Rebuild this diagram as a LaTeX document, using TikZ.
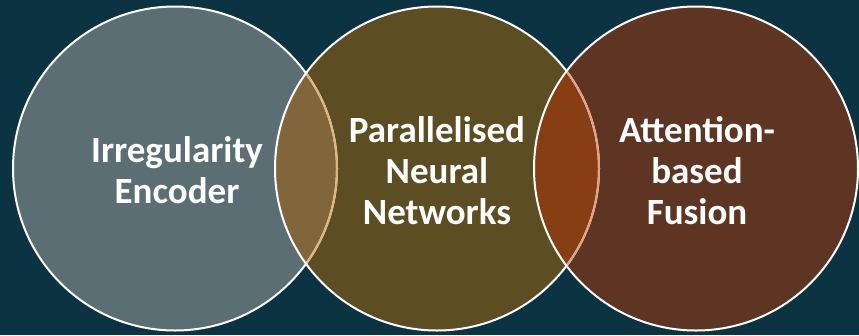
\documentclass[tikz,border=0pt]{standalone}
\usepackage{fontspec}
\setmainfont{Carlito}
\definecolor{bgc}{RGB}{11,51,66}
\definecolor{leftc}{RGB}{90,110,116}
\definecolor{midc}{RGB}{92,77,34}
\definecolor{rightc}{RGB}{94,53,34}
\definecolor{lmc}{RGB}{128,102,58}
\definecolor{mrc}{RGB}{135,62,18}
\definecolor{tanline}{RGB}{222,180,128}
\definecolor{pinkline}{RGB}{226,160,136}
\tikzset{
  vennlabel/.style={text=white, font=\fontsize{37}{41}\selectfont\bfseries, align=center, inner sep=0pt},
  ring/.style={line width=2pt}
}
\begin{document}
\begin{tikzpicture}[x=1pt,y=-1pt]
\fill[bgc] (0,0) rectangle (859,335);
\useasboundingbox (0,0) rectangle (859,335);
\coordinate (L) at (175,168.5);
\coordinate (M) at (437,168.5);
\coordinate (R) at (696,168.5);
\def\rad{162}
\fill[leftc] (L) circle (\rad);
\fill[midc] (M) circle (\rad);
\fill[rightc] (R) circle (\rad);
\begin{scope}
  \clip (L) circle (\rad);
  \fill[lmc] (M) circle (\rad);
\end{scope}
\begin{scope}
  \clip (M) circle (\rad);
  \fill[mrc] (R) circle (\rad);
\end{scope}
\draw[ring, white] (L) circle (\rad);
\begin{scope}
  \clip (M) circle (\rad);
  \draw[ring, tanline] (L) circle (\rad);
\end{scope}
\draw[ring, white] (M) circle (\rad);
\begin{scope}
  \clip (R) circle (\rad);
  \draw[ring, pinkline] (M) circle (\rad);
\end{scope}
\draw[ring, white] (R) circle (\rad);
\node[vennlabel] (enc) at (177,170) {Irregularity\\Encoder};
\node[vennlabel] (pnn) at (437,171) {Parallelised\\Neural\\Networks};
\node[vennlabel] (abf) at (697,171) {Attention-\\based\\Fusion};
\end{tikzpicture}
\end{document}
